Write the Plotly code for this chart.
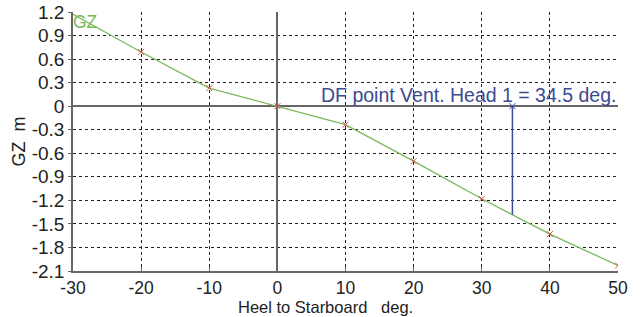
import plotly.graph_objects as go

heel = [-30, -20, -10, 0, 10, 20, 30, 40, 50]
gz = [1.17, 0.69, 0.23, 0.0, -0.235, -0.70, -1.18, -1.63, -2.03]
marker_heel = [-20, -10, 0, 10, 20, 30, 40, 50]
marker_gz = [0.69, 0.23, 0.0, -0.235, -0.70, -1.18, -1.63, -2.03]
df_angle = 34.5
df_gz = [0.0, -1.38]
y_ticks = [1.2, 0.9, 0.6, 0.3, 0, -0.3, -0.6, -0.9, -1.2, -1.5, -1.8, -2.1]
y_labels = ["1.2", "0.9", "0.6", "0.3", "0", "-0.3", "-0.6", "-0.9", "-1.2", "-1.5", "-1.8", "-2.1"]
x_ticks = [-30, -20, -10, 0, 10, 20, 30, 40, 50]
x_labels = ["-30", "-20", "-10", "0", "10", "20", "30", "40", "50"]

font = "Liberation Sans, Arial, sans-serif"
fig = go.Figure()
fig.add_trace(go.Scatter(x=heel, y=gz, mode="lines",
                         line=dict(color="#7ab85a", width=1.3), showlegend=False))
fig.add_trace(go.Scatter(x=marker_heel, y=marker_gz, mode="markers",
                         marker=dict(symbol="x-thin", size=6, line=dict(color="#d05050", width=1)),
                         showlegend=False))
fig.add_trace(go.Scatter(x=[df_angle, df_angle], y=df_gz, mode="lines",
                         line=dict(color="#3c4aa0", width=1.5), showlegend=False))
fig.add_trace(go.Scatter(x=[df_angle], y=[df_gz[0]], mode="markers",
                         marker=dict(symbol="x-thin", size=6, line=dict(color="#3c4aa0", width=1)),
                         showlegend=False))

fig.add_annotation(x=50, y=0, xref="x", yref="y", xanchor="right", yanchor="bottom",
                   text="DF point Vent. Head 1 = 34.5 deg.", showarrow=False,
                   font=dict(family=font, size=19.5, color="#3c4a90"), yshift=-2)
fig.add_annotation(x=-30, y=1.2, xref="x", yref="y", xanchor="left", yanchor="top",
                   text="GZ", showarrow=False,
                   font=dict(family=font, size=17.5, color="#7ab85a"), xshift=-2, yshift=2)
fig.add_annotation(x=0.5, y=0, xref="paper", yref="paper", xanchor="center", yanchor="middle",
                   text="Heel to Starboard   deg.", showarrow=False,
                   font=dict(family=font, size=16.5, color="#222"), xshift=-20, yshift=-36)
fig.add_annotation(x=0, y=0.5, xref="paper", yref="paper", xanchor="center", yanchor="middle",
                   text="GZ  m", showarrow=False, textangle=-90,
                   font=dict(family=font, size=18, color="#222"), xshift=-55)

fig.update_layout(
    width=640, height=317,
    margin=dict(l=73, r=22, t=12, b=46),
    paper_bgcolor="white", plot_bgcolor="white",
    font=dict(family=font, size=19, color="#222"),
)
fig.update_xaxes(range=[-30, 50], tickvals=x_ticks, ticktext=x_labels, showgrid=True, gridcolor="#222",
                 griddash="dot", gridwidth=1, zeroline=True, zerolinecolor="#666",
                 zerolinewidth=1.5, showline=True, linecolor="#666", linewidth=1.5,
                 ticks="inside", ticklen=4, tickcolor="#666", automargin=False,
                 tickfont=dict(size=17.5))
fig.update_yaxes(range=[-2.1, 1.2], tickvals=y_ticks, ticktext=y_labels, showgrid=True,
                 gridcolor="#222", griddash="dot", gridwidth=1, zeroline=True,
                 zerolinecolor="#666", zerolinewidth=1.5, showline=True, linecolor="#666",
                 linewidth=1.5, ticks="outside", ticklen=3, tickcolor="#666", automargin=False)

fig.write_html("out.html", config={"displayModeBar": False},
               post_script="document.body.style.margin='0';")
